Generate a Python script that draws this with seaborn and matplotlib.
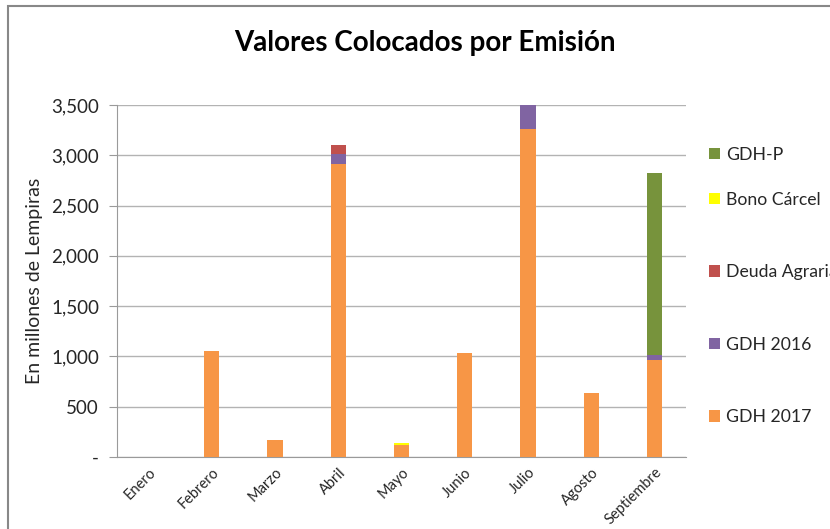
import matplotlib
matplotlib.use("Agg")
from matplotlib import pyplot as plt
from matplotlib.patches import Patch, Rectangle
from matplotlib.ticker import FuncFormatter
import seaborn as sns
import numpy as np

meses = ["Enero", "Febrero", "Marzo", "Abril", "Mayo", "Junio",
         "Julio", "Agosto", "Septiembre"]
gdh_2017 = [0, 1055, 170, 2915, 120, 1037, 3257, 636, 965]
gdh_2016 = [0, 0, 0, 100, 0, 0, 260, 0, 50]
deuda_agraria = [0, 0, 0, 86, 0, 0, 0, 0, 0]
bono_carcel = [0, 0, 0, 0, 15, 0, 0, 0, 0]
gdh_p = [0, 0, 0, 0, 0, 0, 0, 0, 1806]

series = ["GDH 2017", "GDH 2016", "Deuda Agraria", "Bono Cárcel", "GDH-P"]
valores = [gdh_2017, gdh_2016, deuda_agraria, bono_carcel, gdh_p]
colores = ["#F79646", "#8064A2", "#C0504D", "#FFFF00", "#77933C"]

sns.set_style("white")
plt.rcParams["font.family"] = ["Lato", "DejaVu Sans"]

fig = plt.figure(figsize=(8.3, 5.29), dpi=100)
ax = fig.add_axes([117 / 830, 1 - 457 / 529, (686 - 117) / 830, (457 - 105) / 529])

# stacked bars: draw cumulative totals from the top layer down
acum = np.cumsum(np.array(valores), axis=0)
for i in range(len(series) - 1, -1, -1):
    sns.barplot(x=meses, y=acum[i], color=colores[i], width=0.24,
                saturation=1, linewidth=0, ax=ax, zorder=3)

ax.set_ylim(0, 3500)
ax.set_xlim(-0.5, len(meses) - 0.5)
ax.set_yticks(np.arange(0, 3501, 500))
ax.yaxis.set_major_formatter(FuncFormatter(lambda v, p: "-" if v == 0 else f"{v:,.0f}"))
ax.grid(axis="y", color="#B3B3B3", linewidth=1, zorder=0)
ax.set_axisbelow(True)
for s in ["top", "right"]:
    ax.spines[s].set_visible(False)
ax.spines["left"].set_color("#9A9A9A")
ax.spines["bottom"].set_color("#9A9A9A")
ax.tick_params(axis="y", which="major", length=6, color="#9A9A9A",
               labelsize=13.5, colors="#262626", left=True, pad=7)
ax.tick_params(axis="x", length=0, labelsize=10.5, colors="#262626", pad=6)
plt.setp(ax.get_xticklabels(), rotation=45, ha="right", rotation_mode="anchor")
ax.set_ylabel("En millones de Lempiras", fontsize=14, color="#262626", labelpad=6)

fig.text(425 / 830, 1 - 43 / 529, "Valores Colocados por Emisión",
         ha="center", va="center", fontsize=20, fontweight="bold", color="#000000")

# legend: Excel spacing
h = [Patch(facecolor=colores[i], edgecolor="none") for i in range(len(series))]
leg1 = fig.legend([h[4]], [series[4]], loc="center left",
                  bbox_to_anchor=(709 / 830, 1 - 155 / 529), frameon=False,
                  fontsize=12.7, handlelength=0.6, handleheight=0.6, handletextpad=0.35,
                  borderpad=0, borderaxespad=0)
leg2 = fig.legend([h[3], h[2], h[1], h[0]], [series[3], series[2], series[1], series[0]],
                  loc="center left", bbox_to_anchor=(709 / 830, 1 - 308.5 / 529),
                  frameon=False, fontsize=12.7, handlelength=0.6, handleheight=0.6,
                  handletextpad=0.35, labelspacing=3.2, borderpad=0, borderaxespad=0)
for leg in (leg1, leg2):
    for t in leg.get_texts():
        t.set_color("#262626")

fig.patches.append(Rectangle((8 / 830, -0.1), 1.2, 1 - 6 / 529 + 0.1,
                             transform=fig.transFigure, fill=False,
                             edgecolor="#888888", linewidth=1.5))

fig.savefig("out.png", dpi=100)
